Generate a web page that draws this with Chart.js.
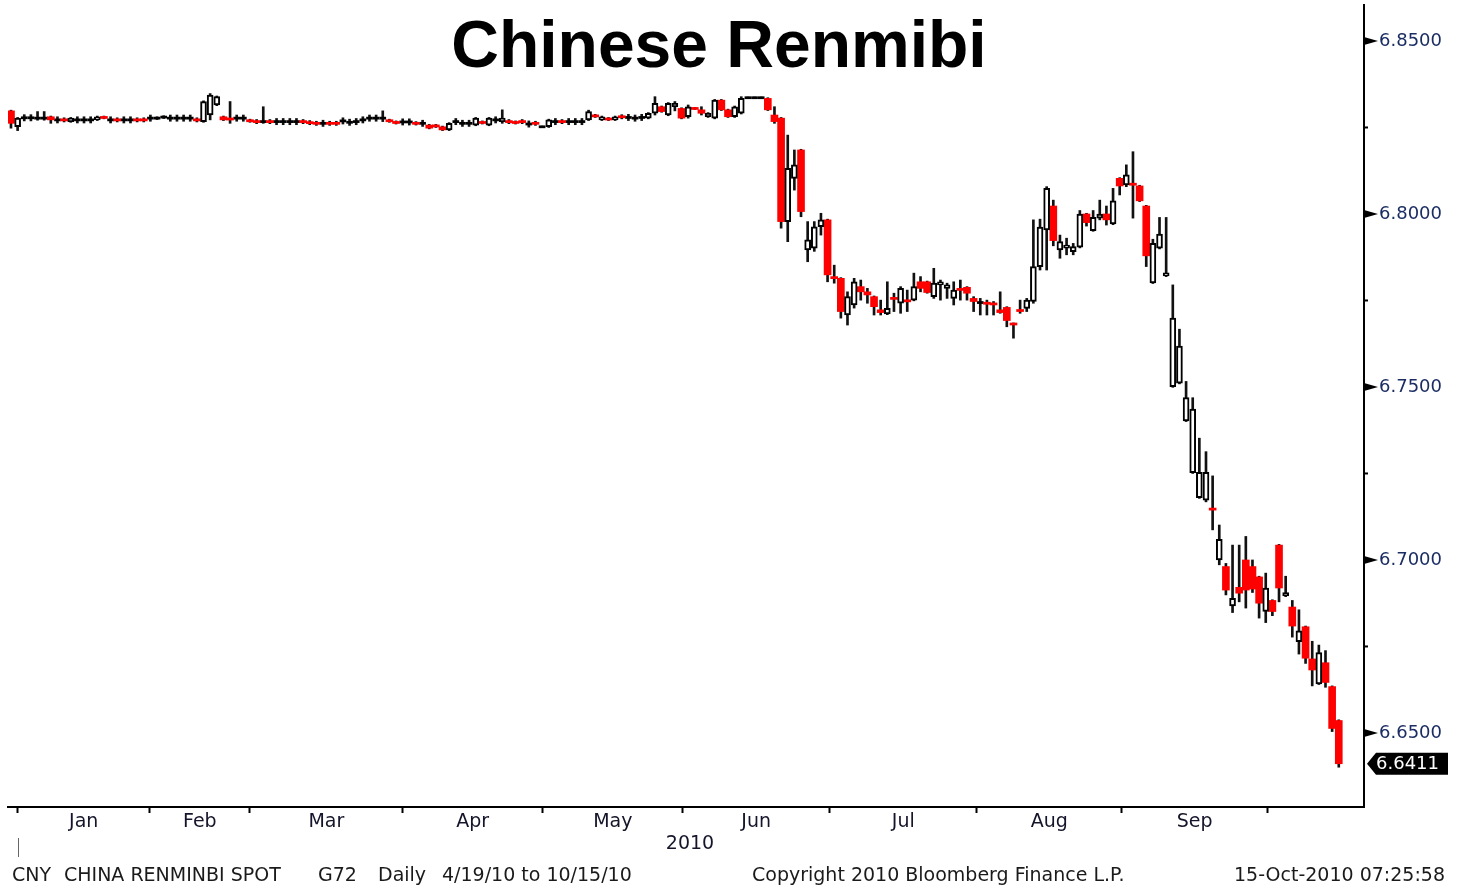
<!DOCTYPE html>
<html>
<head>
<meta charset="utf-8">
<title>Chinese Renmibi</title>
<script src="https://cdn.jsdelivr.net/npm/chart.js@4.4.0/dist/chart.umd.min.js"></script>
<style>
  html, body { margin: 0; padding: 0; background: #fff; }
  #wrap { position: relative; width: 1458px; height: 886px; overflow: hidden; }
  #chart { position: absolute; left: 0; top: 0; }
  #title { position: absolute; left: 0; width: 1438px; top: 11px; text-align: center;
           font-family: "Liberation Sans", Arial, sans-serif; font-weight: bold; font-size: 66px;
           color: #000; line-height: 1; }
  .foot { position: absolute; top: 865px; white-space: pre; line-height: 1;
          font-family: "DejaVu Sans", sans-serif; font-size: 19px; color: #1a1a1a; }
</style>
</head>
<body>
<div id="wrap">
  <canvas id="chart" width="1458" height="886"></canvas>
  <div id="title">Chinese Renmibi</div>
  <div class="foot" style="left:12px">CNY</div>
  <div class="foot" style="left:64px">CHINA RENMINBI SPOT</div>
  <div class="foot" style="left:318px">G72</div>
  <div class="foot" style="left:378px">Daily</div>
  <div class="foot" style="left:442px">4/19/10 to 10/15/10</div>
  <div class="foot" style="left:752px">Copyright 2010 Bloomberg Finance L.P.</div>
  <div class="foot" style="right:13px">15-Oct-2010 07:25:58</div>
</div>
<script>
// daily USD/CNY candles, Dec 31 2009 .. Oct 15 2010
const opens = [
  6.8298, 6.8252, 6.8278, 6.8278, 6.8277, 6.8277, 6.8281, 6.8272, 6.8273, 6.8267,
  6.8272, 6.8272, 6.8272, 6.8272, 6.8281, 6.8272, 6.8273, 6.8272, 6.8272, 6.8273,
  6.8273, 6.8277, 6.8277, 6.8280, 6.8277, 6.8277, 6.8277, 6.8277, 6.8273, 6.8267,
  6.8286, 6.8315, 6.8281, 6.8277, 6.8277, 6.8277, 6.8272, 6.8268, 6.8267, 6.8268,
  6.8267, 6.8267, 6.8267, 6.8267, 6.8268, 6.8265, 6.8263, 6.8262, 6.8263, 6.8263,
  6.8269, 6.8265, 6.8267, 6.8272, 6.8277, 6.8277, 6.8277, 6.8272, 6.8267, 6.8266,
  6.8266, 6.8265, 6.8262, 6.8257, 6.8257, 6.8252, 6.8243, 6.8267, 6.8262, 6.8262,
  6.8257, 6.8267, 6.8257, 6.8272, 6.8267, 6.8268, 6.8267, 6.8268, 6.8260, 6.8263,
  6.8252, 6.8252, 6.8267, 6.8268, 6.8267, 6.8267, 6.8267, 6.8272, 6.8286, 6.8272,
  6.8277, 6.8272, 6.8282, 6.8279, 6.8277, 6.8279, 6.8277, 6.8291, 6.8310, 6.8286,
  6.8310, 6.8305, 6.8281, 6.8306, 6.8301, 6.8281, 6.8277, 6.8329, 6.8301, 6.8281,
  6.8291, 6.8336, 6.8336, 6.8336, 6.8334, 6.8286, 6.8277, 6.7978, 6.8103, 6.8185,
  6.7896, 6.7901, 6.7963, 6.7983, 6.7817, 6.7814, 6.7708, 6.7737, 6.7790, 6.7775,
  6.7761, 6.7723, 6.7711, 6.7757, 6.7742, 6.7750, 6.7751, 6.7804, 6.7804, 6.7761,
  6.7795, 6.7785, 6.7756, 6.7783, 6.7788, 6.7756, 6.7744, 6.7743, 6.7741, 6.7723,
  6.7730, 6.7683, 6.7722, 6.7727, 6.7747, 6.7848, 6.7954, 6.8023, 6.7896, 6.7901,
  6.7891, 6.7904, 6.8000, 6.7952, 6.7988, 6.8000, 6.7971, 6.8103, 6.8084, 6.8087,
  6.8081, 6.8023, 6.7801, 6.7901, 6.7821, 6.7501, 6.7511, 6.7402, 6.7252, 6.7180,
  6.7173, 6.7148, 6.7000, 6.6981, 6.6867, 6.6921, 6.7000, 6.6981, 6.6951, 6.6851,
  6.6883, 6.7043, 6.6896, 6.6864, 6.6764, 6.6807, 6.6714, 6.6642, 6.6703, 6.6634,
  6.6536
];
const highs = [
  6.8300, 6.8279, 6.8287, 6.8287, 6.8296, 6.8296, 6.8283, 6.8281, 6.8278, 6.8279,
  6.8281, 6.8281, 6.8281, 6.8283, 6.8283, 6.8281, 6.8278, 6.8281, 6.8281, 6.8278,
  6.8278, 6.8286, 6.8281, 6.8284, 6.8286, 6.8286, 6.8286, 6.8286, 6.8278, 6.8327,
  6.8348, 6.8341, 6.8283, 6.8325, 6.8286, 6.8286, 6.8274, 6.8273, 6.8310, 6.8273,
  6.8276, 6.8276, 6.8276, 6.8276, 6.8273, 6.8270, 6.8268, 6.8271, 6.8268, 6.8268,
  6.8278, 6.8274, 6.8276, 6.8281, 6.8286, 6.8286, 6.8298, 6.8274, 6.8269, 6.8275,
  6.8275, 6.8267, 6.8271, 6.8259, 6.8259, 6.8254, 6.8264, 6.8276, 6.8271, 6.8271,
  6.8279, 6.8269, 6.8279, 6.8281, 6.8301, 6.8273, 6.8269, 6.8273, 6.8269, 6.8268,
  6.8254, 6.8274, 6.8276, 6.8273, 6.8276, 6.8276, 6.8276, 6.8300, 6.8288, 6.8283,
  6.8279, 6.8283, 6.8287, 6.8288, 6.8286, 6.8288, 6.8293, 6.8339, 6.8312, 6.8322,
  6.8325, 6.8307, 6.8315, 6.8308, 6.8310, 6.8293, 6.8331, 6.8331, 6.8303, 6.8312,
  6.8339, 6.8338, 6.8338, 6.8338, 6.8336, 6.8310, 6.8279, 6.8228, 6.8185, 6.8187,
  6.7978, 6.7978, 6.8002, 6.7985, 6.7852, 6.7816, 6.7775, 6.7814, 6.7809, 6.7785,
  6.7763, 6.7751, 6.7804, 6.7771, 6.7790, 6.7780, 6.7829, 6.7819, 6.7806, 6.7843,
  6.7809, 6.7800, 6.7804, 6.7809, 6.7790, 6.7761, 6.7756, 6.7751, 6.7747, 6.7775,
  6.7732, 6.7685, 6.7751, 6.7756, 6.7983, 6.7985, 6.8079, 6.8040, 6.7939, 6.7930,
  6.7915, 6.8010, 6.8002, 6.8010, 6.8040, 6.8023, 6.8074, 6.8105, 6.8142, 6.8180,
  6.8083, 6.8025, 6.7927, 6.7990, 6.7990, 6.7795, 6.7667, 6.7516, 6.7469, 6.7352,
  6.7313, 6.7243, 6.7101, 6.6990, 6.7043, 6.7043, 6.7068, 6.7000, 6.6953, 6.6962,
  6.6885, 6.7045, 6.6953, 6.6883, 6.6856, 6.6809, 6.6765, 6.6754, 6.6738, 6.6636,
  6.6538
];
const lows = [
  6.8248, 6.8241, 6.8269, 6.8269, 6.8271, 6.8271, 6.8262, 6.8263, 6.8266, 6.8265,
  6.8263, 6.8263, 6.8263, 6.8270, 6.8275, 6.8263, 6.8266, 6.8263, 6.8263, 6.8266,
  6.8266, 6.8268, 6.8273, 6.8276, 6.8268, 6.8268, 6.8268, 6.8268, 6.8266, 6.8265,
  6.8272, 6.8313, 6.8270, 6.8262, 6.8268, 6.8268, 6.8265, 6.8261, 6.8262, 6.8261,
  6.8258, 6.8258, 6.8258, 6.8258, 6.8261, 6.8258, 6.8256, 6.8253, 6.8256, 6.8256,
  6.8260, 6.8256, 6.8258, 6.8263, 6.8268, 6.8268, 6.8267, 6.8265, 6.8260, 6.8257,
  6.8257, 6.8257, 6.8253, 6.8246, 6.8250, 6.8241, 6.8241, 6.8258, 6.8253, 6.8253,
  6.8255, 6.8260, 6.8255, 6.8263, 6.8262, 6.8261, 6.8260, 6.8261, 6.8251, 6.8256,
  6.8250, 6.8250, 6.8258, 6.8261, 6.8258, 6.8258, 6.8258, 6.8270, 6.8279, 6.8270,
  6.8270, 6.8270, 6.8275, 6.8270, 6.8268, 6.8270, 6.8275, 6.8286, 6.8294, 6.8284,
  6.8298, 6.8275, 6.8277, 6.8302, 6.8286, 6.8279, 6.8275, 6.8299, 6.8279, 6.8279,
  6.8289, 6.8334, 6.8334, 6.8334, 6.8299, 6.8262, 6.7959, 6.7920, 6.8069, 6.7992,
  6.7862, 6.7892, 6.7939, 6.7804, 6.7800, 6.7699, 6.7679, 6.7728, 6.7751, 6.7742,
  6.7708, 6.7708, 6.7709, 6.7718, 6.7713, 6.7718, 6.7749, 6.7775, 6.7771, 6.7756,
  6.7751, 6.7756, 6.7737, 6.7751, 6.7751, 6.7718, 6.7708, 6.7708, 6.7708, 6.7713,
  6.7674, 6.7641, 6.7713, 6.7718, 6.7742, 6.7838, 6.7838, 6.7908, 6.7872, 6.7882,
  6.7882, 6.7902, 6.7965, 6.7950, 6.7983, 6.7968, 6.7969, 6.8055, 6.8079, 6.7988,
  6.8036, 6.7848, 6.7799, 6.7899, 6.7819, 6.7499, 6.7509, 6.7400, 6.7250, 6.7178,
  6.7168, 6.7087, 6.6986, 6.6899, 6.6848, 6.6879, 6.6861, 6.6906, 6.6832, 6.6819,
  6.6839, 6.6879, 6.6894, 6.6777, 6.6728, 6.6701, 6.6636, 6.6640, 6.6632, 6.6504,
  6.6401
];
const closes = [
  6.8262, 6.8277, 6.8278, 6.8278, 6.8277, 6.8277, 6.8272, 6.8272, 6.8271, 6.8277,
  6.8272, 6.8272, 6.8272, 6.8281, 6.8277, 6.8272, 6.8271, 6.8272, 6.8272, 6.8271,
  6.8271, 6.8277, 6.8277, 6.8280, 6.8277, 6.8277, 6.8277, 6.8277, 6.8271, 6.8325,
  6.8344, 6.8339, 6.8272, 6.8272, 6.8277, 6.8277, 6.8267, 6.8266, 6.8267, 6.8266,
  6.8267, 6.8267, 6.8267, 6.8267, 6.8266, 6.8263, 6.8261, 6.8262, 6.8261, 6.8261,
  6.8269, 6.8265, 6.8267, 6.8272, 6.8277, 6.8277, 6.8277, 6.8267, 6.8262, 6.8266,
  6.8266, 6.8259, 6.8262, 6.8248, 6.8252, 6.8243, 6.8262, 6.8267, 6.8262, 6.8262,
  6.8277, 6.8262, 6.8277, 6.8272, 6.8277, 6.8266, 6.8262, 6.8266, 6.8260, 6.8261,
  6.8252, 6.8272, 6.8267, 6.8266, 6.8267, 6.8267, 6.8267, 6.8296, 6.8281, 6.8281,
  6.8272, 6.8281, 6.8280, 6.8279, 6.8277, 6.8279, 6.8291, 6.8320, 6.8296, 6.8320,
  6.8320, 6.8277, 6.8310, 6.8304, 6.8291, 6.8291, 6.8329, 6.8301, 6.8281, 6.8310,
  6.8334, 6.8336, 6.8336, 6.8336, 6.8301, 6.8267, 6.7978, 6.8132, 6.8142, 6.8007,
  6.7925, 6.7963, 6.7983, 6.7824, 6.7815, 6.7718, 6.7761, 6.7804, 6.7775, 6.7766,
  6.7732, 6.7715, 6.7727, 6.7755, 6.7785, 6.7748, 6.7790, 6.7785, 6.7773, 6.7800,
  6.7804, 6.7795, 6.7780, 6.7781, 6.7771, 6.7747, 6.7744, 6.7741, 6.7739, 6.7715,
  6.7692, 6.7681, 6.7720, 6.7751, 6.7848, 6.7962, 6.8074, 6.7923, 6.7920, 6.7910,
  6.7906, 6.8000, 6.7975, 6.7990, 6.8000, 6.7983, 6.8038, 6.8081, 6.8113, 6.8085,
  6.8038, 6.7879, 6.7915, 6.7942, 6.7830, 6.7699, 6.7618, 6.7469, 6.7436, 6.7253,
  6.7253, 6.7146, 6.7060, 6.6913, 6.6889, 6.6904, 6.6913, 6.6916, 6.6875, 6.6919,
  6.6851, 6.6919, 6.6906, 6.6809, 6.6795, 6.6716, 6.6682, 6.6732, 6.6646, 6.6513,
  6.6411
];

// month boundaries, in candle index units
const monthBreaks = [1.0, 20.9, 36.0, 59.0, 80.1, 101.2, 123.3, 145.5, 167.3, 189.3];
const monthNames = ["Jan", "Feb", "Mar", "Apr", "May", "Jun", "Jul", "Aug", "Sep"];
const yearLabel = "2010";
const yTicks = [6.65, 6.675, 6.70, 6.725, 6.75, 6.775, 6.80, 6.825, 6.85];

const isMajor = v => Math.round(v * 1000) % 50 === 0;

// split candles by colour
const upBodies = [], downBodies = [], flatBodies = [], wicks = [];
opens.forEach((o, i) => {
  const c = closes[i];
  let lo = Math.min(o, c), hi = Math.max(o, c);
  if (hi - lo < 0.0006) {
    const m = (hi + lo) / 2;
    lo = m - 0.0003; hi = m + 0.0003;
  }
  const pt = { x: i, y: [lo, hi] };
  if (c > o) upBodies.push(pt);
  else if (c < o) downBodies.push(pt);
  else flatBodies.push(pt);
  wicks.push({ x: i, y: [lows[i], highs[i]] });
});

const overlay = {
  id: 'overlay',
  afterDraw(chart) {
    const ctx = chart.ctx;
    const xs = chart.scales.x, ys = chart.scales.y;
    const area = chart.chartArea;
    ctx.save();

    // y tick marks: wedges for majors, small dashes for minors
    ctx.fillStyle = '#000';
    ys.ticks.forEach(t => {
      const y = ys.getPixelForValue(t.value);
      if (isMajor(t.value)) {
        ctx.beginPath();
        ctx.moveTo(area.right, y - 4);
        ctx.lineTo(area.right + 14, y);
        ctx.lineTo(area.right, y + 4);
        ctx.closePath();
        ctx.fill();
      } else {
        ctx.fillRect(area.right, y - 1, 4, 2);
      }
    });

    // last value tag
    const last = closes[closes.length - 1];
    const ly = ys.getPixelForValue(last);
    ctx.beginPath();
    ctx.moveTo(area.right + 3, ly);
    ctx.lineTo(area.right + 12, ly - 11);
    ctx.lineTo(1448, ly - 11);
    ctx.lineTo(1448, ly + 11);
    ctx.lineTo(area.right + 12, ly + 11);
    ctx.closePath();
    ctx.fill();
    ctx.fillStyle = '#fff';
    ctx.font = '18px "DejaVu Sans", sans-serif';
    ctx.textAlign = 'left';
    ctx.textBaseline = 'middle';
    ctx.fillText(last.toFixed(4), area.right + 12, ly + 1);

    // month labels between the month ticks
    ctx.fillStyle = '#14142a';
    ctx.font = '19px "DejaVu Sans", sans-serif';
    ctx.textAlign = 'center';
    monthNames.forEach((m, k) => {
      const mid = (monthBreaks[k] + monthBreaks[k + 1]) / 2;
      ctx.fillText(m, xs.getPixelForValue(mid), area.bottom + 15);
    });
    ctx.fillText(yearLabel, (area.left + area.right) / 2 + 4, area.bottom + 37);

    // year start marker
    const x0 = Math.round(xs.getPixelForValue(monthBreaks[0])) + 0.5;
    ctx.strokeStyle = '#666';
    ctx.lineWidth = 1;
    ctx.beginPath();
    ctx.moveTo(x0, area.bottom + 31);
    ctx.lineTo(x0, area.bottom + 50);
    ctx.stroke();

    ctx.restore();
  }
};

new Chart(document.getElementById('chart'), {
  type: 'bar',
  data: {
    datasets: [
      { data: upBodies, backgroundColor: '#fff', borderColor: '#000', borderWidth: 2,
        borderSkipped: false, barThickness: 6, grouped: false, order: 0 },
      { data: downBodies, backgroundColor: '#ff0000', borderWidth: 0,
        borderSkipped: false, barThickness: 7, grouped: false, order: 1 },
      { data: flatBodies, backgroundColor: '#000', borderWidth: 0,
        borderSkipped: false, barThickness: 6, grouped: false, order: 2 },
      { data: wicks, backgroundColor: '#111', borderWidth: 0,
        barThickness: 2, grouped: false, order: 3 }
    ]
  },
  options: {
    responsive: false,
    devicePixelRatio: 1,
    animation: false,
    layout: { padding: { left: 8, top: 5, right: 0, bottom: 0 } },
    plugins: { legend: { display: false }, tooltip: { enabled: false }, title: { display: false } },
    scales: {
      x: {
        type: 'linear',
        offset: false,
        min: -0.45,
        max: 203.8,
        afterBuildTicks: s => { s.ticks = monthBreaks.map(v => ({ value: v })); },
        afterFit: s => { s.height = 79; s.paddingLeft = 0; s.paddingRight = 0; },
        ticks: { callback: () => '', autoSkip: false },
        grid: { offset: false, drawOnChartArea: false, drawTicks: true, tickLength: 6,
                tickColor: '#000', tickWidth: 2 },
        border: { display: true, color: '#000', width: 2 }
      },
      y: {
        position: 'right',
        min: 6.6286,
        max: 6.8604,
        afterBuildTicks: s => { s.ticks = yTicks.map(v => ({ value: v })); },
        afterFit: s => { s.width = 94; s.paddingTop = 0; s.paddingBottom = 0; },
        ticks: {
          autoSkip: false,
          padding: 3,
          color: '#1b2d63',
          font: { family: '"DejaVu Sans", sans-serif', size: 18 },
          callback: v => isMajor(v) ? v.toFixed(4) : ''
        },
        grid: { drawOnChartArea: false, drawTicks: true, tickLength: 12, tickColor: 'rgba(0,0,0,0)' },
        border: { display: true, color: '#000', width: 2 }
      }
    }
  },
  plugins: [overlay]
});
</script>
</body>
</html>
